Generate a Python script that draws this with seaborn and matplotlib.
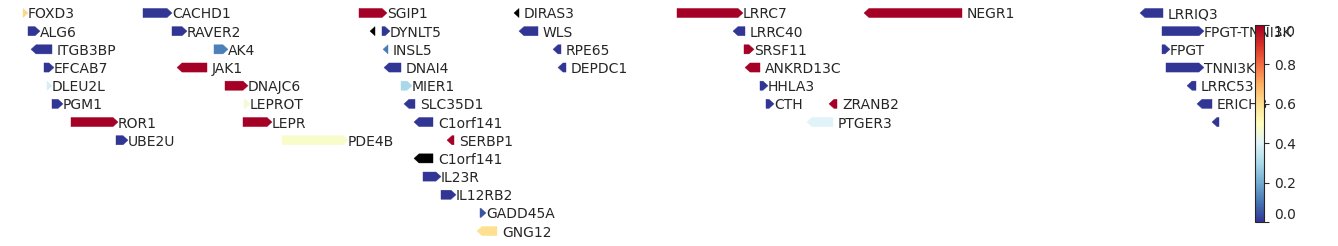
import numpy as np
import matplotlib
matplotlib.use("Agg")
import matplotlib.pyplot as plt
from matplotlib.patches import Polygon
from matplotlib.colors import Normalize
from matplotlib.cm import ScalarMappable
import seaborn as sns

sns.set_style("white")
plt.rcParams['font.family'] = ['DejaVu Sans']

# ---- data (positions in Mb, chr1) ----
genes = ["FOXD3", "ALG6", "ITGB3BP", "EFCAB7", "DLEU2L", "PGM1", "ROR1", "UBE2U",
         "CACHD1", "RAVER2", "AK4", "JAK1", "DNAJC6", "LEPROT", "LEPR", "PDE4B",
         "SGIP1", "", "DYNLT5", "INSL5", "DNAI4", "MIER1", "SLC35D1", "C1orf141",
         "SERBP1", "C1orf141", "IL23R", "IL12RB2", "GADD45A", "GNG12",
         "DIRAS3", "WLS", "RPE65", "DEPDC1",
         "LRRC7", "LRRC40", "SRSF11", "ANKRD13C", "HHLA3", "CTH", "ZRANB2", "PTGER3",
         "NEGR1",
         "LRRIQ3", "FPGT-TNNI3K", "FPGT", "TNNI3K", "LRRC53", "ERICH3", ""]
rows = [0, 1, 2, 3, 4, 5, 6, 7,
        0, 1, 2, 3, 4, 5, 6, 7,
        0, 1, 1, 2, 3, 4, 5, 6,
        7, 8, 9, 10, 11, 12,
        0, 1, 2, 3,
        0, 1, 2, 3, 4, 5, 5, 6,
        0,
        0, 1, 2, 3, 4, 5, 6]
starts = [63.23, 63.28, 63.36, 63.44, 63.47, 63.52, 63.71, 64.16,
          64.43, 64.72, 65.14, 64.82, 65.25, 65.44, 65.43, 65.82,
          66.59, 66.75, 66.82, 66.88, 66.89, 67.01, 67.09, 67.19,
          67.52, 67.19, 67.23, 67.41, 67.80, 67.82,
          68.19, 68.24, 68.58, 68.63,
          69.77, 70.38, 70.44, 70.50, 70.60, 70.66, 71.34, 71.12,
          71.69,
          74.45, 74.62, 74.62, 74.66, 74.92, 75.02, 75.17]
ends = [63.23, 63.35, 63.52, 63.49, 63.47, 63.58, 64.13, 64.23,
        64.67, 64.82, 65.23, 65.07, 65.43, 65.45, 65.67, 66.43,
        66.82, 66.75, 66.85, 66.88, 67.01, 67.07, 67.15, 67.33,
        67.54, 67.33, 67.36, 67.51, 67.81, 67.97,
        68.19, 68.38, 68.61, 68.66,
        70.38, 70.45, 70.49, 70.60, 70.63, 70.69, 71.37, 71.33,
        72.62,
        74.63, 74.99, 74.65, 74.99, 74.96, 75.12, 75.19]
strands = ["+", "+", "-", "+", "+", "+", "+", "+",
           "+", "+", "+", "-", "+", "+", "+", "+",
           "+", "-", "+", "-", "-", "+", "-", "-",
           "-", "-", "+", "+", "+", "-",
           "-", "-", "-", "-",
           "+", "-", "+", "-", "+", "+", "-", "-",
           "-",
           "-", "+", "+", "+", "-", "-", "-"]
nan = float("nan")
values = [0.62, 0.0, 0.0, 0.0, 0.38, 0.0, 1.0, 0.0,
          0.0, 0.0, 0.12, 1.0, 1.0, 0.46, 1.0, 0.48,
          1.0, nan, 0.0, 0.11, 0.0, 0.30, 0.0, 0.0,
          1.0, nan, 0.0, 0.0, 0.05, 0.60,
          nan, 0.0, 0.0, 0.0,
          1.0, 0.0, 1.0, 1.0, 0.0, 0.0, 1.0, 0.40,
          1.0,
          0.0, 0.0, 0.0, 0.0, 0.0, 0.0, 0.0]

HEAD = 0.05      # arrow head length (Mb)
HALF = 0.25      # half arrow height (row units)

cmap = sns.color_palette("RdYlBu_r", as_cmap=True).copy()
cmap.set_bad("black")
norm = Normalize(vmin=0.0, vmax=1.0)

fig = plt.figure(figsize=(13.38, 2.46), dpi=100)
ax = fig.add_axes([0, 0, 1, 1])
ax.set_xlim(63.0, 76.38)
ax.set_ylim(12.82, -0.715)
ax.axis("off")

for g, r, s, e, st, v in zip(genes, rows, starts, ends, strands, values):
    col = cmap(norm(v)) if not np.isnan(v) else (0, 0, 0, 1)
    if st == "+":
        verts = [(s, r - HALF), (e, r - HALF), (e + HEAD, r), (e, r + HALF), (s, r + HALF)]
    else:
        verts = [(e, r - HALF), (s, r - HALF), (s - HEAD, r), (s, r + HALF), (e, r + HALF)]
    ax.add_patch(Polygon(verts, closed=True, facecolor=col, edgecolor=col, lw=0.3))
    if g:
        ax.text(e + HEAD, r, g, ha="left", va="center_baseline", fontsize=10)

cax = fig.add_axes([1255 / 1338, (246 - 222) / 246, 9 / 1338, 197 / 246])
fig.colorbar(ScalarMappable(norm=norm, cmap=cmap), cax=cax)
cax.tick_params(labelsize=10)
fig.canvas.draw()
tl = cax.get_yticklabels()
tl[0].set_verticalalignment("bottom")
tl[-1].set_verticalalignment("top")

fig.savefig("out.png", dpi=100)
